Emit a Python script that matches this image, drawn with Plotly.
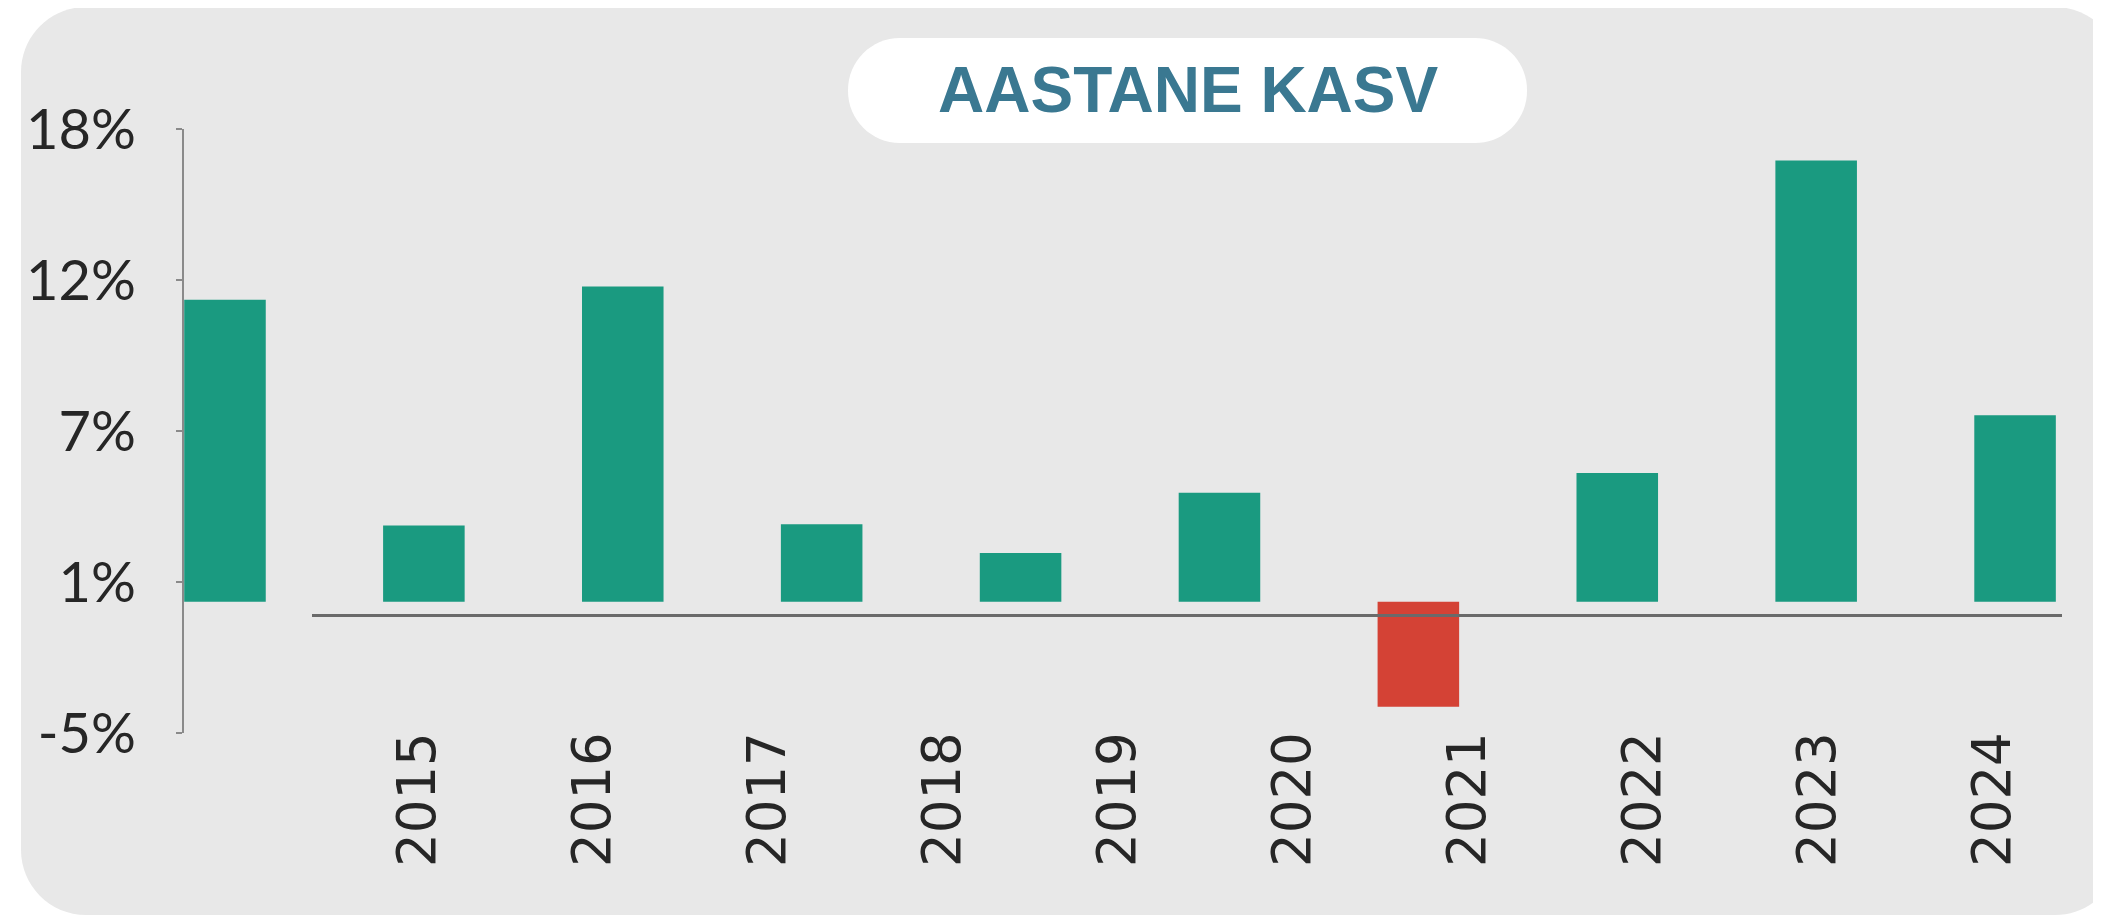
import plotly.graph_objects as go

# browser body margin of 8px is taken off the figure size
W, H = 2093, 909
L, T, R, B = 176, 121, 39, 184
PW, PH = W - L - R, H - T - B

years = ["2015", "2016", "2017", "2018", "2019", "2020", "2021", "2022", "2023", "2024"]
growth = [11.5, 2.9, 12.0, 2.95, 1.85, 4.15, -4.0, 4.9, 16.8, 7.1]

y_tick_vals = [-5, 0.75, 6.5, 12.25, 18]
y_tick_text = ["-5%", "1%", "7%", "12%", "18%"]

title_text = "AASTANE KASV"
GREEN = "#1a9a80"
RED = "#d44235"


def to_paper(x, y):
    # figure pixels (top-left origin) -> paper coords (plot area based)
    return (x - L) / PW, (H - B - y) / PH


def rounded_rect(x0, y0, x1, y1, r):
    k = 0.5523 * r

    def p(x, y):
        px, py = to_paper(x, y)
        return f"{px:.5f},{py:.5f}"

    return (
        f"M {p(x0 + r, y0)} L {p(x1 - r, y0)} "
        f"C {p(x1 - r + k, y0)} {p(x1, y0 + r - k)} {p(x1, y0 + r)} "
        f"L {p(x1, y1 - r)} "
        f"C {p(x1, y1 - r + k)} {p(x1 - r + k, y1)} {p(x1 - r, y1)} "
        f"L {p(x0 + r, y1)} "
        f"C {p(x0 + r - k, y1)} {p(x0, y1 - r + k)} {p(x0, y1 - r)} "
        f"L {p(x0, y0 + r)} "
        f"C {p(x0, y0 + r - k)} {p(x0 + r - k, y0)} {p(x0 + r, y0)} Z"
    )


colors = [GREEN if v >= 0 else RED for v in growth]

fig = go.Figure()
fig.add_trace(go.Bar(
    x=years, y=growth, marker=dict(color=colors, line=dict(width=0)),
    hovertemplate="%{x}: %{y:.1f}%<extra></extra>",
))
# carrier for the (offset) year axis
fig.add_trace(go.Scatter(
    x=years, y=growth, xaxis="x2", yaxis="y", mode="markers",
    marker=dict(opacity=0), hoverinfo="skip", showlegend=False,
))

title_x, title_y = to_paper(1180, 82)

fig.update_layout(
    width=W, height=H,
    paper_bgcolor="white", plot_bgcolor="rgba(0,0,0,0)",
    margin=dict(l=L, r=R, t=T, b=B, autoexpand=False),
    showlegend=False,
    bargap=0.59,
    xaxis=dict(
        type="category", range=[-0.206, 9.236],
        showticklabels=False, showline=False, showgrid=False,
        zeroline=False, ticks="",
    ),
    xaxis2=dict(
        type="category", domain=[0.0682, 1.0], anchor="free", position=0.195,
        range=[-0.602, 9.398], showline=True, linecolor="#6a6a6a", linewidth=2.5,
        showgrid=False, zeroline=False, ticks="", tickangle=-90,
        ticklabelstandoff=94,
        tickfont=dict(family="DejaVu Sans", size=53, color="#262626"),
    ),
    yaxis=dict(
        range=[-5, 18], tickmode="array", tickvals=y_tick_vals, ticktext=y_tick_text,
        showline=True, linecolor="#8a8a8a", linewidth=2,
        ticks="outside", ticklen=6, tickcolor="#8a8a8a", tickwidth=2,
        showgrid=False, zeroline=False, ticklabelstandoff=29,
        tickfont=dict(family="Lato", size=56, color="#262626"),
    ),
    shapes=[
        dict(type="path", xref="paper", yref="paper", layer="below",
             path=rounded_rect(13, -1, 2112, 907, 65),
             fillcolor="#e8e8e8", line=dict(width=0)),
        dict(type="path", xref="paper", yref="paper", layer="below",
             path=rounded_rect(840, 30, 1519, 135, 52),
             fillcolor="white", line=dict(width=0)),
    ],
    annotations=[
        dict(text=f"<b>{title_text}</b>", xref="paper", yref="paper",
             x=title_x, y=title_y, xanchor="center", yanchor="middle",
             showarrow=False,
             font=dict(family="Liberation Sans, Arial", size=64, color="#3a7891")),
    ],
)

fig.write_html("out.html")
